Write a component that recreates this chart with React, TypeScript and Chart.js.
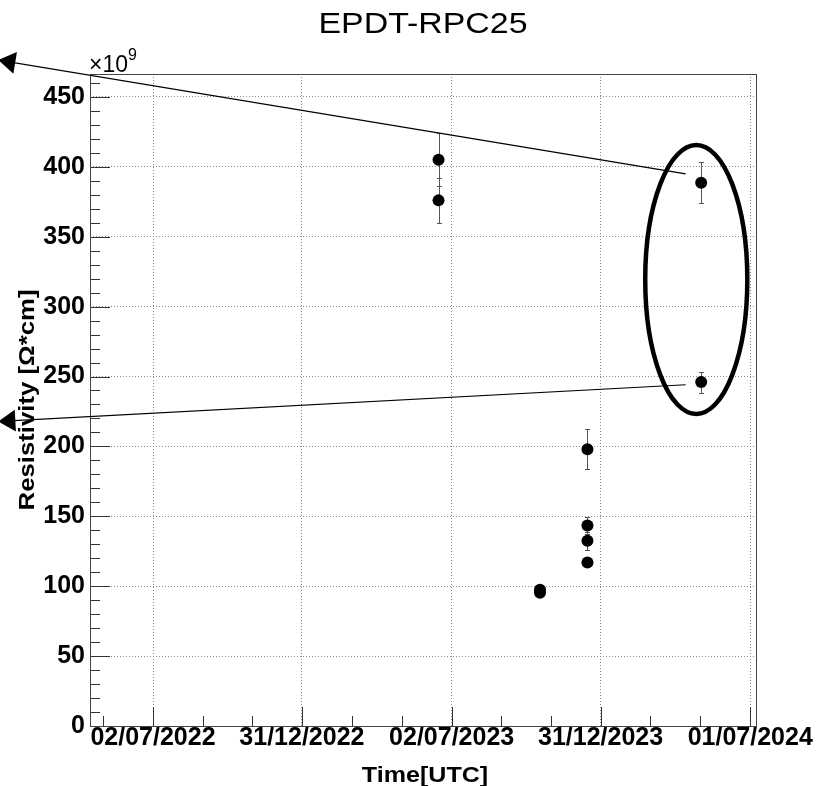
import React, { useEffect, useRef } from "react";
import { Chart, registerables } from "chart.js";

Chart.register(...registerables);

// ---------- text ----------
const TITLE = "EPDT-RPC25";
const X_TITLE = "Time[UTC]";
const Y_TITLE = "Resistivity [Ω*cm]";
const Y_MULT_BASE = "×10";
const Y_MULT_EXP = "9";

// ---------- data (resistivity in units of 1e9 Ω*cm) ----------
const pointDates = [
  "2023-06-16", "2023-06-16",
  "2023-10-18", "2023-10-18",
  "2023-12-15", "2023-12-15", "2023-12-15", "2023-12-15",
  "2024-05-02", "2024-05-02",
];
const resistivity = [405, 376, 97.5, 95.4, 198, 143.5, 132.6, 117, 388.6, 246];
const resistivityErr = [19, 16, 2, 2, 14.3, 6.2, 6.4, 3, 14.7, 7.5];

// ---------- axes ----------
const xTickDates = ["2022-07-02", "2022-12-31", "2023-07-02", "2023-12-31", "2024-07-01"];
const xRangeDates = ["2022-04-16", "2024-07-08"];
const yTicks = [0, 50, 100, 150, 200, 250, 300, 350, 400, 450];
const yRange = [0, 466.4];
const yMinorStep = 10;
const xMinorPerMajor = 3;

// ---------- annotations (data coordinates) ----------
const arrowFromDates = ["2024-04-13", "2024-04-13"];
const arrowFromValues = [395, 244.1];
const arrowToDates = ["2021-12-25", "2021-12-25"];
const arrowToValues = [476.4, 217.8];
const ellipseCenterDate = "2024-04-26";
const ellipseCenterValue = 319.4;
const ellipseHalfWidthDays = 62.4;
const ellipseHalfHeightValue = 96.2;

const FONT = "'Liberation Sans', Arial, Helvetica, sans-serif";
const DAY = 86400000;
const toDay = (s: string) => Date.parse(s + "T00:00:00Z") / DAY;
const pad2 = (n: number) => (n < 10 ? "0" + n : "" + n);
const fmtDay = (d: number) => {
  const dt = new Date(Math.round(d) * DAY);
  return pad2(dt.getUTCDate()) + "/" + pad2(dt.getUTCMonth() + 1) + "/" + dt.getUTCFullYear();
};

const xTickDays = xTickDates.map(toDay);

function drawScaledText(
  ctx: CanvasRenderingContext2D, text: string, x: number, y: number,
  font: string, sx: number, align: CanvasTextAlign, rot = 0
) {
  ctx.save();
  ctx.translate(x, y);
  if (rot) ctx.rotate(rot);
  ctx.scale(sx, 1);
  ctx.font = font;
  ctx.fillStyle = "#000";
  ctx.textAlign = align;
  ctx.textBaseline = "alphabetic";
  ctx.fillText(text, 0, 0);
  ctx.restore();
}

const rootPlugin = {
  id: "rootStyle",
  beforeDatasetsDraw(chart: any) {
    const { ctx, chartArea: a, scales } = chart;
    const xs = scales.x, ys = scales.y;
    ctx.save();
    // ticks
    ctx.strokeStyle = "#333";
    ctx.lineWidth = 1;
    ctx.beginPath();
    for (let v = yRange[0]; v <= yRange[1] + 1e-6; v += yMinorStep) {
      const py = Math.round(ys.getPixelForValue(v)) + 0.5;
      const major = yTicks.indexOf(Math.round(v)) >= 0;
      ctx.moveTo(a.left, py);
      ctx.lineTo(a.left + (major ? 20 : 10), py);
    }
    const minors: number[] = [];
    const stepDays = (xTickDays[1] - xTickDays[0]) / xMinorPerMajor;
    for (let k = 1; k < xMinorPerMajor; k++) {
      const v = xTickDays[0] - k * stepDays;
      if (v >= xs.min) minors.push(v);
    }
    for (let i = 0; i < xTickDays.length - 1; i++) {
      const st = (xTickDays[i + 1] - xTickDays[i]) / xMinorPerMajor;
      for (let k = 1; k < xMinorPerMajor; k++) minors.push(xTickDays[i] + k * st);
    }
    const last = xTickDays[xTickDays.length - 1];
    for (let k = 1; k < xMinorPerMajor; k++) {
      const v = last + k * stepDays;
      if (v <= xs.max) minors.push(v);
    }
    for (const v of minors) {
      const px = Math.round(xs.getPixelForValue(v)) + 0.5;
      ctx.moveTo(px, a.bottom);
      ctx.lineTo(px, a.bottom - 10);
    }
    for (const v of xTickDays) {
      const px = Math.round(xs.getPixelForValue(v)) + 0.5;
      ctx.moveTo(px, a.bottom);
      ctx.lineTo(px, a.bottom - 19);
    }
    ctx.stroke();
    // frame
    ctx.strokeStyle = "#444";
    ctx.strokeRect(Math.round(a.left) + 0.5, Math.round(a.top) + 0.5,
      Math.round(a.right - a.left), Math.round(a.bottom - a.top));
    // error bars
    ctx.strokeStyle = "#555";
    ctx.beginPath();
    for (let i = 0; i < resistivity.length; i++) {
      const px = Math.round(xs.getPixelForValue(toDay(pointDates[i]))) + 0.5;
      const yt = Math.round(ys.getPixelForValue(resistivity[i] + resistivityErr[i])) + 0.5;
      const yb = Math.round(ys.getPixelForValue(resistivity[i] - resistivityErr[i])) + 0.5;
      ctx.moveTo(px, yt); ctx.lineTo(px, yb);
      ctx.moveTo(px - 2.5, yt); ctx.lineTo(px + 2.5, yt);
      ctx.moveTo(px - 2.5, yb); ctx.lineTo(px + 2.5, yb);
    }
    ctx.stroke();
    ctx.restore();
  },
  afterDraw(chart: any) {
    const { ctx, chartArea: a, scales } = chart;
    const xs = scales.x, ys = scales.y;
    ctx.save();
    // arrows
    for (let i = 0; i < arrowFromDates.length; i++) {
      const x0 = xs.getPixelForValue(toDay(arrowFromDates[i]));
      const y0 = ys.getPixelForValue(arrowFromValues[i]);
      const x1 = xs.getPixelForValue(toDay(arrowToDates[i]));
      const y1 = ys.getPixelForValue(arrowToValues[i]);
      ctx.strokeStyle = "#000";
      ctx.lineWidth = 1.2;
      ctx.beginPath();
      ctx.moveTo(x0, y0);
      ctx.lineTo(x1, y1);
      ctx.stroke();
      const ang = Math.atan2(y1 - y0, x1 - x0);
      const L = 17, H = 11;
      const bx = x1 - L * Math.cos(ang), by = y1 - L * Math.sin(ang);
      ctx.fillStyle = "#000";
      ctx.beginPath();
      ctx.moveTo(x1, y1);
      ctx.lineTo(bx - H * Math.sin(ang), by + H * Math.cos(ang));
      ctx.lineTo(bx + H * Math.sin(ang), by - H * Math.cos(ang));
      ctx.closePath();
      ctx.fill();
    }
    // ellipse
    const cx = xs.getPixelForValue(toDay(ellipseCenterDate));
    const cy = ys.getPixelForValue(ellipseCenterValue);
    const rx = Math.abs(xs.getPixelForValue(toDay(ellipseCenterDate) + ellipseHalfWidthDays) - cx);
    const ry = Math.abs(ys.getPixelForValue(ellipseCenterValue + ellipseHalfHeightValue) - cy);
    ctx.strokeStyle = "#000";
    ctx.lineWidth = 4.5;
    ctx.beginPath();
    ctx.ellipse(cx, cy, rx, ry, 0, 0, Math.PI * 2);
    ctx.stroke();
    // texts
    const midX = (a.left + a.right) / 2;
    const midY = (a.top + a.bottom) / 2;
    drawScaledText(ctx, TITLE, midX + 0, 32.5, `30px ${FONT}`, 1.13, "center");
    drawScaledText(ctx, X_TITLE, midX + 2, 781.5, `bold 22px ${FONT}`, 1.14, "center");
    drawScaledText(ctx, Y_TITLE, 34, midY, `bold 22px ${FONT}`, 1.17, "center", -Math.PI / 2);
    drawScaledText(ctx, Y_MULT_BASE, a.left - 1, a.top - 2, `23px ${FONT}`, 1.0, "left");
    drawScaledText(ctx, Y_MULT_EXP, a.left + 38, a.top - 14, `16px ${FONT}`, 1.0, "left");
    ctx.restore();
  },
};

export default function App() {
  const ref = useRef<HTMLCanvasElement | null>(null);
  useEffect(() => {
    if (!ref.current) return;
    const chart = new Chart(ref.current, {
      type: "scatter",
      data: {
        datasets: [
          {
            data: pointDates.map((d, i) => ({ x: toDay(d), y: resistivity[i] })),
            backgroundColor: "#000",
            borderWidth: 0,
            pointRadius: 6,
            pointHoverRadius: 6,
            showLine: false,
          },
        ],
      },
      options: {
        animation: false,
        responsive: false,
        events: [],
        layout: { padding: { left: 0, right: 73, top: 74, bottom: 0 } },
        plugins: {
          legend: { display: false },
          tooltip: { enabled: false },
          title: { display: false },
        },
        scales: {
          x: {
            type: "linear",
            min: toDay(xRangeDates[0]),
            max: toDay(xRangeDates[1]),
            afterBuildTicks: (s: any) => {
              s.ticks = xTickDays.map((v) => ({ value: v }));
            },
            afterFit: (s: any) => {
              s.height = 60;
            },
            ticks: {
              autoSkip: false,
              maxRotation: 0,
              padding: -3,
              color: "#000",
              font: { family: FONT, size: 25, weight: "bold" },
              callback: (v: any) => fmtDay(Number(v)),
            },
            grid: { color: "#8a8a8a", lineWidth: 1, drawTicks: false },
            border: { display: false, dash: [1, 2] },
          },
          y: {
            type: "linear",
            min: yRange[0],
            max: yRange[1],
            afterBuildTicks: (s: any) => {
              s.ticks = yTicks.map((v) => ({ value: v }));
            },
            afterFit: (s: any) => {
              s.width = 90;
            },
            ticks: {
              padding: 5,
              color: "#000",
              font: { family: FONT, size: 25, weight: "bold" },
              callback: (v: any) => String(v),
            },
            grid: { color: "#8a8a8a", lineWidth: 1, drawTicks: false },
            border: { display: false, dash: [1, 2] },
          },
        },
      },
      plugins: [rootPlugin],
    } as any);
    return () => chart.destroy();
  }, []);
  return (
    <div style={{ position: "fixed", left: 0, top: 0, width: 829, height: 786, background: "#fff" }}>
      <canvas ref={ref} width={829} height={786} style={{ display: "block" }} />
    </div>
  );
}
